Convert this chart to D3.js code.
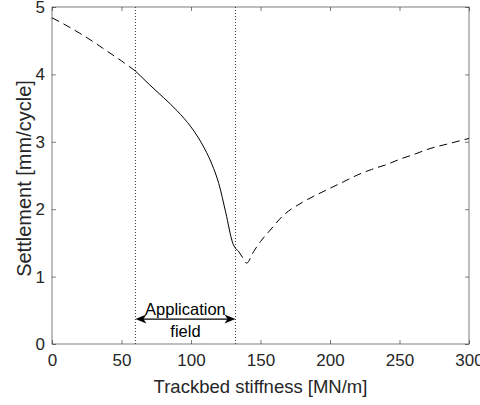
<!DOCTYPE html>
<html>
<head>
<meta charset="utf-8">
<script src="https://cdn.jsdelivr.net/npm/d3@7"></script>
<style>
  html, body { margin: 0; padding: 0; background: #fff; }
  svg { display: block; font-family: "Liberation Sans", Arial, sans-serif; }
</style>
</head>
<body>
<svg id="chart" width="480" height="405"></svg>
<script>
// ---- data ----
const xTicks = [0, 50, 100, 150, 200, 250, 300];
const yTicks = [0, 1, 2, 3, 4, 5];

// dashed extrapolation (left)
const stiffLeft = [0, 10, 20, 30, 40, 50, 60];
const settleLeft = [4.84, 4.73, 4.61, 4.48, 4.34, 4.20, 4.05];

// solid (application field)
const stiffMid = [60, 70, 80, 90, 100, 105, 110, 115, 120, 125, 130, 134];
const settleMid = [4.05, 3.85, 3.66, 3.46, 3.22, 3.07, 2.89, 2.67, 2.38, 1.95, 1.50, 1.38];

// dashed extrapolation (right)
const stiffRight = [134, 137.6, 140, 145, 150, 157, 166, 180, 190, 200, 210, 220, 230, 243, 250, 260, 272, 285, 300];
const settleRight = [1.38, 1.27, 1.20, 1.37, 1.52, 1.69, 1.90, 2.10, 2.21, 2.31, 2.41, 2.51, 2.59, 2.68, 2.74, 2.81, 2.90, 2.97, 3.05];

const fieldBounds = [60, 132];
const arrowLevel = 0.37;
const annotationLines = ["Application", "field"];

const xLabel = "Trackbed stiffness [MN/m]";
const yLabel = "Settlement [mm/cycle]";

// ---- layout ----
const svg = d3.select("#chart");
const L = 52, R = 469, T = 7, B = 344;
const axisColor = "#262626";

const x = d3.scaleLinear().domain([0, 300]).range([L, R]);
const y = d3.scaleLinear().domain([0, 5]).range([B, T]);

// box
svg.append("rect")
  .attr("x", L).attr("y", T).attr("width", R - L).attr("height", B - T)
  .attr("fill", "none").attr("stroke", axisColor).attr("stroke-width", 0.6);

// axes with inward ticks
const tickLen = 4;
const gx = svg.append("g").attr("transform", `translate(0,${B})`)
  .call(d3.axisBottom(x).tickValues(xTicks).tickSize(-tickLen).tickPadding(10).tickFormat(d3.format("d")));
const gxTop = svg.append("g").attr("transform", `translate(0,${T})`)
  .call(d3.axisTop(x).tickValues(xTicks).tickSize(-tickLen).tickFormat(""));
const gy = svg.append("g").attr("transform", `translate(${L},0)`)
  .call(d3.axisLeft(y).tickValues(yTicks).tickSize(-tickLen).tickPadding(7).tickFormat(d3.format("d")));
const gyR = svg.append("g").attr("transform", `translate(${R},0)`)
  .call(d3.axisRight(y).tickValues(yTicks).tickSize(-tickLen).tickFormat(""));

[gx, gxTop, gy, gyR].forEach(g => {
  g.select(".domain").remove();
  g.selectAll(".tick line").attr("stroke", axisColor).attr("stroke-width", 0.6);
  g.selectAll(".tick text").attr("fill", axisColor)
    .style("font-size", "17px").style("font-family", '"Liberation Sans", Arial, sans-serif');
});

// axis labels
svg.append("text")
  .attr("x", (L + R) / 2).attr("y", 393)
  .attr("text-anchor", "middle").attr("fill", axisColor)
  .style("font-size", "18.5px")
  .text(xLabel);

svg.append("text")
  .attr("transform", `translate(31,${(T + B) / 2 + 3}) rotate(-90)`)
  .attr("text-anchor", "middle").attr("fill", axisColor)
  .style("font-size", "20px")
  .text(yLabel);

// dotted field boundaries
svg.selectAll("line.bound").data(fieldBounds).enter().append("line")
  .attr("class", "bound")
  .attr("x1", d => x(d)).attr("x2", d => x(d))
  .attr("y1", y(0)).attr("y2", y(5))
  .attr("stroke", "#333").attr("stroke-width", 1)
  .attr("stroke-dasharray", "1,2");

// curves
const line = d3.line().x(d => x(d[0])).y(d => y(d[1])).curve(d3.curveMonotoneX);
const zip = (a, b) => a.map((v, i) => [v, b[i]]);

svg.append("path").datum(zip(stiffLeft, settleLeft))
  .attr("d", line).attr("fill", "none").attr("stroke", "#000")
  .attr("stroke-width", 1).attr("stroke-dasharray", "8,5");

svg.append("path").datum(zip(stiffMid, settleMid))
  .attr("d", line).attr("fill", "none").attr("stroke", "#000")
  .attr("stroke-width", 1);

svg.append("path").datum(zip(stiffRight, settleRight))
  .attr("d", line).attr("fill", "none").attr("stroke", "#000")
  .attr("stroke-width", 1).attr("stroke-dasharray", "8,5");

// double-headed arrow
const ax1 = x(fieldBounds[0]), ax2 = x(fieldBounds[1]), ay = y(arrowLevel);
const hl = 11, hw = 4.5;
svg.append("line")
  .attr("x1", ax1 + 4).attr("x2", ax2 - 4).attr("y1", ay).attr("y2", ay)
  .attr("stroke", "#000").attr("stroke-width", 1.2);
svg.append("path")
  .attr("d", `M${ax1},${ay} L${ax1 + hl},${ay - hw} L${ax1 + hl - 3},${ay} L${ax1 + hl},${ay + hw} Z`)
  .attr("fill", "#000");
svg.append("path")
  .attr("d", `M${ax2},${ay} L${ax2 - hl},${ay - hw} L${ax2 - hl + 3},${ay} L${ax2 - hl},${ay + hw} Z`)
  .attr("fill", "#000");

// annotation text
svg.append("text")
  .attr("x", (ax1 + ax2) / 2).attr("y", ay - 4)
  .attr("text-anchor", "middle").attr("fill", "#000")
  .style("font-size", "16.5px")
  .text(annotationLines[0]);
svg.append("text")
  .attr("x", (ax1 + ax2) / 2).attr("y", ay + 18)
  .attr("text-anchor", "middle").attr("fill", "#000")
  .style("font-size", "16.5px")
  .text(annotationLines[1]);
</script>
</body>
</html>
